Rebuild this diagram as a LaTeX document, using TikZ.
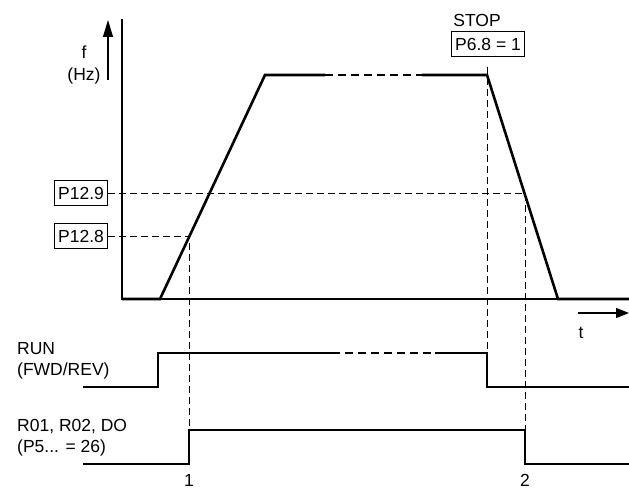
\documentclass[tikz,border=0pt]{standalone}
\usepackage{fontspec}
\setmainfont{Liberation Sans}
\usetikzlibrary{arrows.meta}
\begin{document}
\begin{tikzpicture}[x=1pt,y=-1pt,
  lbl/.style={font=\fontsize{17.5}{20}\selectfont, inner sep=0pt, text height=12.6pt, text depth=0pt},
  pbox/.style={lbl, draw, line width=1pt, inner xsep=4pt, minimum height=25pt, text height=12.6pt, text depth=0pt},
  axis/.style={line width=1.4pt},
  sig/.style={line width=2.6pt, line join=miter},
  sigdash/.style={line width=2.6pt, dash pattern=on 8pt off 5pt},
  guide/.style={line width=0.9pt, dash pattern=on 7pt off 4pt},
  arr/.style={line width=1.2pt, -{Triangle[length=17pt,width=10pt]}}
]
\useasboundingbox (0,0) rectangle (629,489);
% axes
\coordinate (O) at (122,299);
\coordinate (Ytop) at (122,19);
\coordinate (Xend) at (629,299);
\draw[axis] (Ytop) -- (O) -- (Xend);
% f arrow and label
\coordinate (fa0) at (108,80);
\coordinate (fa1) at (108,20);
\draw[arr] (fa0) -- (fa1);
\node[lbl] (f) at (84,52) {f};
\node[lbl] (hz) at (84,74) {(Hz)};
% frequency curve
\coordinate (c0) at (122,299);
\coordinate (c1) at (160,299);
\coordinate (c2) at (265,75);
\coordinate (c3) at (325,75);
\coordinate (c4) at (422,75);
\coordinate (c5) at (487,75);
\coordinate (c6) at (558,299);
\coordinate (c7) at (629,299);
\draw[sig] (c0) -- (c1) -- (c2) -- (c3);
\draw[sigdash] (c3) -- (c4);
\draw[sig] (c4) -- (c5) -- (c6) -- (c7);
% parameter boxes
\node[pbox] (p129) at (81,193) {P12.9};
\node[pbox] (p128) at (81,236) {P12.8};
\node[lbl] (stop) at (477,20) {STOP};
\node[pbox] (p68) at (488,44) {P6.8 = 1};
% guide lines
\coordinate (g1a) at (189,236);
\coordinate (g1b) at (189,430);
\coordinate (g2a) at (525,193);
\coordinate (g2b) at (525,430);
\coordinate (g3a) at (487,67);
\coordinate (g3b) at (487,353);
\draw[guide] (p129.east) -- (g2a) -- (g2b);
\draw[guide] (p128.east) -- (g1a) -- (g1b);
\draw[guide] (g3a) -- (g3b);
% t arrow
\coordinate (ta0) at (578,313);
\coordinate (ta1) at (629,313);
\draw[line width=1.2pt, -{Triangle[length=13pt,width=10pt]}] (ta0) -- (ta1);
\node[lbl] (t) at (581,332) {t};
% RUN signal
\coordinate (r0) at (83,387);
\coordinate (r1) at (158,387);
\coordinate (r2) at (158,353);
\coordinate (r3) at (332,353);
\coordinate (r4) at (435,353);
\coordinate (r5) at (487,353);
\coordinate (r6) at (487,387);
\coordinate (r7) at (629,387);
\draw[sig] (r0) -- (r1) -- (r2) -- (r3);
\draw[sigdash] (r3) -- (r4);
\draw[sig] (r4) -- (r5) -- (r6) -- (r7);
\node[lbl, anchor=west] (run) at (17,348) {RUN};
\node[lbl, anchor=west] (fwd) at (17,369) {(FWD/REV)};
% R01 signal
\coordinate (s0) at (83,464);
\coordinate (s1) at (189,464);
\coordinate (s2) at (189,430);
\coordinate (s3) at (525,430);
\coordinate (s4) at (525,464);
\coordinate (s5) at (629,464);
\draw[sig] (s0) -- (s1) -- (s2) -- (s3) -- (s4) -- (s5);
\node[lbl, anchor=west] (ro) at (17,425) {R01, R02, DO};
\node[lbl, anchor=west] (p5) at (17,446) {(P5... = 26)};
% event numbers
\node[lbl] (n1) at (189,480.5) {1};
\node[lbl] (n2) at (525,480.5) {2};
\end{tikzpicture}
\end{document}
